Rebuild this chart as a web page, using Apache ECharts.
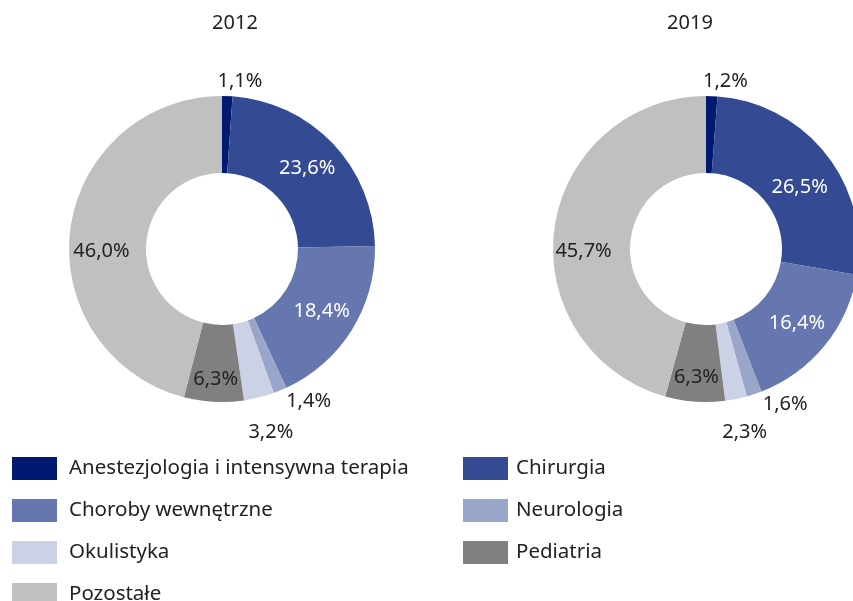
<!DOCTYPE html>
<html>
<head>
<meta charset="utf-8">
<script src="https://cdn.jsdelivr.net/npm/echarts@6/dist/echarts.min.js"></script>
<style>
html,body{margin:0;padding:0;background:#fff;}
#chart{width:853px;height:601px;}
</style>
</head>
<body>
<div id="chart"></div>
<script>
// kategorie i kolory
var categories = ['Anestezjologia i intensywna terapia', 'Chirurgia', 'Choroby wewnętrzne', 'Neurologia', 'Okulistyka', 'Pediatria', 'Pozostałe'];
var colors = ['#001a72', '#344a92', '#6577ae', '#9aa6c9', '#ccd2e5', '#808080', '#c0c0c0'];
var values2012 = [1.1, 23.6, 18.4, 1.4, 3.2, 6.3, 46.0];
var values2019 = [1.2, 26.5, 16.4, 1.6, 2.3, 6.3, 45.7];
var titles = ['2012', '2019'];

var font = 'Noto Sans';
// ktore etykiety sa na zewnatrz, dlugosc linii
var outsideLen = [6, 0, 0, 8, 26, 0, 0];
// przesuniecia etykiet (jak w excelu)
var shift2012 = [[-15, -9], [0, 0], [0, 0], [-2, 3], [-22, 10], [0, 13], [-4, 17]];
var shift2019 = [[-14, -9], [1, 11], [0, 0], [1, 2], [-24, 8], [-1, 11], [-6, 18]];

function buildData(vals) {
    return vals.map(function (v, i) {
        var item = {name: categories[i], value: v, itemStyle: {color: colors[i]}};
        if (outsideLen[i] > 0) {
            item.label = {position: 'outside', color: '#222'};
            item.labelLine = {show: false, length: outsideLen[i], length2: 0};
        } else {
            item.label = {position: 'inside', color: (i === 1 || i === 2) ? '#fff' : '#222'};
        }
        return item;
    });
}

function pieSeries(vals, cx, shift) {
    return {
        type: 'pie',
        center: [cx, 249],
        radius: [76, 153],
        startAngle: 90,
        clockwise: true,
        avoidLabelOverlap: false,
        label: {
            show: true,
            fontFamily: font,
            fontSize: 20,
            formatter: function (p) { return p.value.toFixed(1).replace('.', ',') + '%'; }
        },
        labelLayout: function (p) {
            return {dx: shift[p.dataIndex][0], dy: shift[p.dataIndex][1]};
        },
        emphasis: {disabled: true},
        data: buildData(vals)
    };
}

var legendText = {fontFamily: font, fontSize: 20.5, color: '#222'};

var myChart = echarts.init(document.getElementById('chart'));
var option = {
    animation: false,
    title: [
        {text: titles[0], left: 230, top: 8, textAlign: 'center', textStyle: {fontFamily: font, fontSize: 20, fontWeight: 'normal', color: '#222'}},
        {text: titles[1], left: 685, top: 8, textAlign: 'center', textStyle: {fontFamily: font, fontSize: 20, fontWeight: 'normal', color: '#222'}}
    ],
    legend: [
        {
            orient: 'vertical', left: 7, top: 452,
            itemWidth: 45, itemHeight: 23, itemGap: 19,
            icon: 'rect',
            data: [categories[0], categories[2], categories[4]],
            textStyle: Object.assign({padding: [0, 0, 0, 7]}, legendText)
        },
        {
            orient: 'vertical', left: 7, top: 578,
            itemWidth: 45, itemHeight: 23,
            icon: 'rect',
            data: [categories[6]],
            textStyle: Object.assign({padding: [0, 0, 0, 7]}, legendText)
        },
        {
            orient: 'vertical', left: 458, top: 452,
            itemWidth: 45, itemHeight: 23, itemGap: 19,
            icon: 'rect',
            data: [categories[1], categories[3], categories[5]],
            textStyle: Object.assign({padding: [0, 0, 0, 3]}, legendText)
        }
    ],
    series: [
        pieSeries(values2012, 222, shift2012),
        pieSeries(values2019, 706, shift2019)
    ]
};
myChart.setOption(option);
</script>
</body>
</html>
